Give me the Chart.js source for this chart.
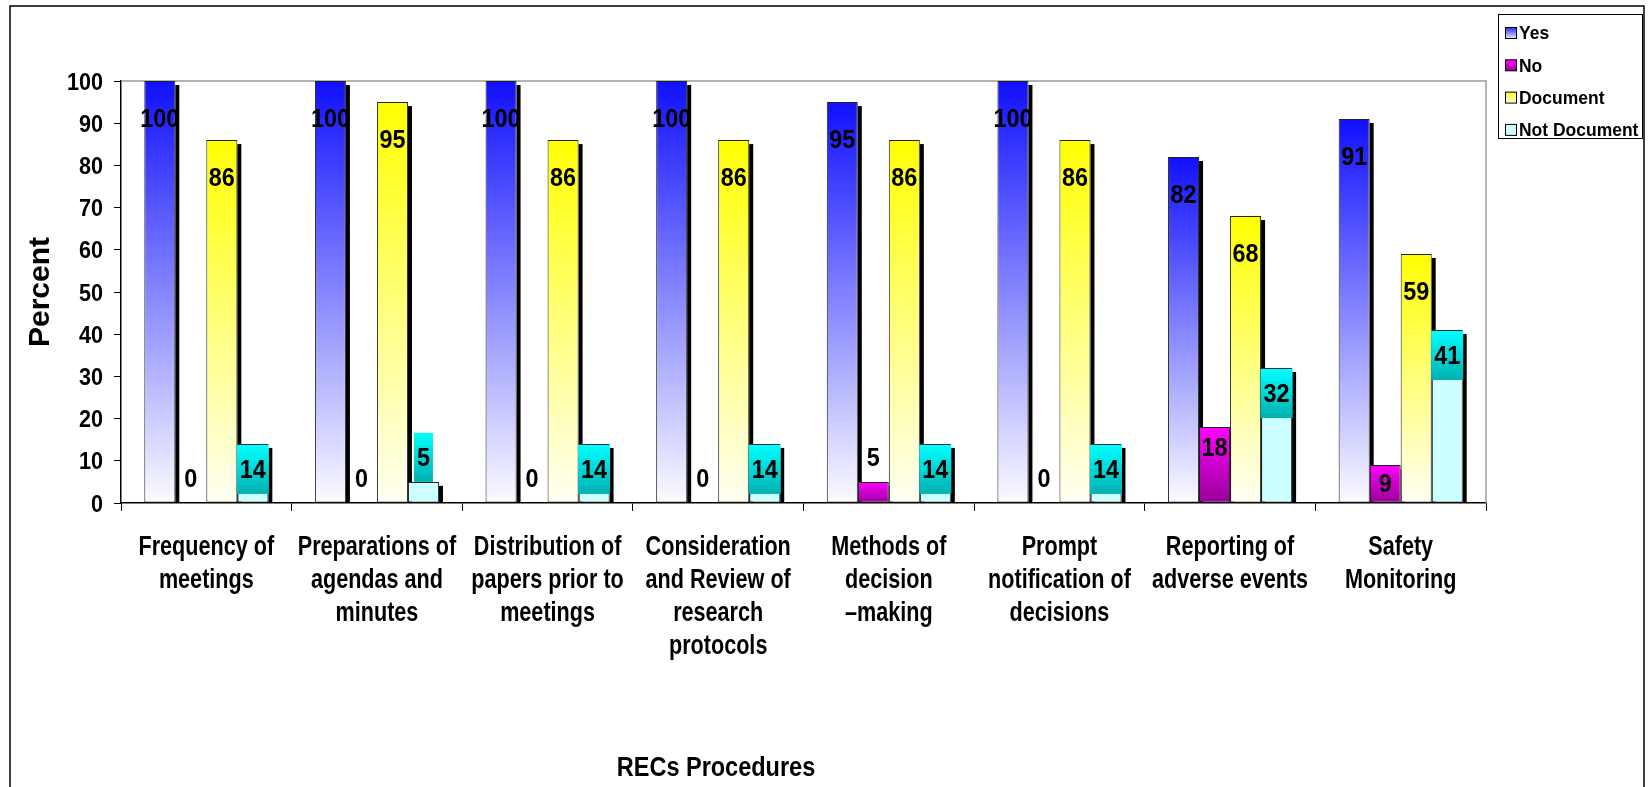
<!DOCTYPE html>
<html>
<head>
<meta charset="utf-8">
<script src="https://cdn.jsdelivr.net/npm/chart.js@4.4.1/dist/chart.umd.min.js"></script>
<style>
  html, body { margin: 0; padding: 0; background: #fff; }
  #wrap { width: 1650px; height: 787px; position: relative; }
</style>
</head>
<body>
<div id="wrap"><canvas id="chartRecs"></canvas></div>
<script>
const categories = [
  ['Frequency of', 'meetings'],
  ['Preparations of', 'agendas and', 'minutes'],
  ['Distribution of', 'papers prior to', 'meetings'],
  ['Consideration', 'and Review of', 'research', 'protocols'],
  ['Methods of', 'decision', '\u2013making'],
  ['Prompt', 'notification of', 'decisions'],
  ['Reporting of', 'adverse events'],
  ['Safety', 'Monitoring']
];
const seriesNames = ['Yes', 'No', 'Document', 'Not Document'];
const yesValues = [100, 100, 100, 100, 95, 100, 82, 91];
const noValues = [0, 0, 0, 0, 5, 0, 18, 9];
const documentValues = [86, 95, 86, 86, 86, 86, 68, 59];
const notDocumentValues = [14, 5, 14, 14, 14, 14, 32, 41];
const yTicks = [0, 10, 20, 30, 40, 50, 60, 70, 80, 90, 100];
const xTitle = 'RECs Procedures';
const yTitle = 'Percent';

const FONT = '"Liberation Sans", Arial, sans-serif';

// the source uses a condensed bold face, so squeeze the text horizontally
function squeezed(ctx, text, x, y, k, align) {
  ctx.save();
  ctx.translate(x, y);
  ctx.scale(k, 1);
  ctx.textAlign = align;
  ctx.fillText(text, 0, 0);
  ctx.restore();
}

// vertical gradient over the height of each bar
function barGradient(top, bottom) {
  return function (context) {
    const chart = context.chart;
    if (!chart.chartArea || context.type !== 'data') return top;
    const y = chart.scales.y;
    const y0 = y.getPixelForValue(context.raw);
    const y1 = y.getPixelForValue(0);
    if (y1 - y0 < 1) return top;
    const g = chart.ctx.createLinearGradient(0, y0, 0, y1);
    g.addColorStop(0, top);
    g.addColorStop(1, bottom);
    return g;
  };
}

const barShadow = {
  id: 'barShadow',
  beforeDatasetsDraw(chart) {
    const ctx = chart.ctx;
    const area = chart.chartArea;
    ctx.save();
    // plot area frame (top and right, grey)
    ctx.strokeStyle = '#9a9a9a';
    ctx.lineWidth = 1.5;
    ctx.beginPath();
    ctx.moveTo(area.left, area.top);
    ctx.lineTo(area.right, area.top);
    ctx.lineTo(area.right, area.bottom);
    ctx.stroke();
    ctx.fillStyle = '#000';
    chart.data.datasets.forEach((ds, i) => {
      chart.getDatasetMeta(i).data.forEach((bar, j) => {
        if (!ds.data[j]) return;
        const p = bar.getProps(['x', 'y', 'base', 'width'], true);
        ctx.fillRect(p.x + p.width / 2, p.y + 4, 4, p.base - p.y - 4);
      });
    });
    ctx.restore();
  }
};

const valueLabels = {
  id: 'valueLabels',
  afterDatasetsDraw(chart) {
    const ctx = chart.ctx;
    const k = 0.9;
    ctx.save();
    ctx.font = 'bold 26px ' + FONT;
    ctx.textBaseline = 'middle';
    chart.data.datasets.forEach((ds, i) => {
      chart.getDatasetMeta(i).data.forEach((bar, j) => {
        const v = ds.data[j];
        const p = bar.getProps(['x', 'y', 'base', 'width'], true);
        const h = p.base - p.y;
        const txt = String(v);
        let cy;
        if (ds.labelMode === 'inside') {
          cy = p.y + 39;
        } else if (ds.labelMode === 'small') {
          cy = h > 30 ? p.y + Math.min(21, h / 2) + 1 : p.y - 23;
        } else {
          const w = ctx.measureText(txt).width * k + 6;
          const bh = 49;
          const top = h > bh + 4 ? p.y + 1 : p.y - bh;
          const g = ctx.createLinearGradient(0, top, 0, top + bh);
          g.addColorStop(0, '#00ffff');
          g.addColorStop(1, '#00b0b0');
          ctx.fillStyle = g;
          ctx.fillRect(p.x - w / 2, top, w, bh);
          cy = top + bh / 2 + 1;
        }
        ctx.fillStyle = '#000';
        squeezed(ctx, txt, p.x, cy, k, 'center');
      });
    });
    ctx.restore();
  }
};

const axisText = {
  id: 'axisText',
  afterDraw(chart) {
    const ctx = chart.ctx;
    const xs = chart.scales.x;
    const ys = chart.scales.y;
    ctx.save();
    ctx.fillStyle = '#000';
    ctx.textBaseline = 'alphabetic';

    // category labels
    ctx.font = 'bold 27px ' + FONT;
    categories.forEach((lines, i) => {
      const cx = xs.getPixelForValue(i);
      lines.forEach((line, n) => {
        squeezed(ctx, line, cx, 555 + n * 33, 0.8, 'center');
      });
    });

    // value ticks
    ctx.font = 'bold 24px ' + FONT;
    ctx.textBaseline = 'middle';
    yTicks.forEach(v => {
      squeezed(ctx, String(v), ys.left + ys.width - 18, ys.getPixelForValue(v) + 2, 0.9, 'right');
    });

    // x axis title
    ctx.textBaseline = 'alphabetic';
    ctx.font = 'bold 27px ' + FONT;
    squeezed(ctx, xTitle, 716, 776, 0.87, 'center');
    ctx.restore();
  }
};

const frameAndLegend = {
  id: 'frameAndLegend',
  afterDraw(chart) {
    const ctx = chart.ctx;
    ctx.save();
    // outer frame
    ctx.strokeStyle = '#000';
    ctx.lineWidth = 1.5;
    ctx.beginPath();
    ctx.moveTo(10, 787);
    ctx.lineTo(10, 6);
    ctx.lineTo(1644, 6);
    ctx.lineTo(1644, 787);
    ctx.stroke();

    // legend
    ctx.lineWidth = 1;
    ctx.fillStyle = '#fff';
    ctx.fillRect(1498.5, 14.5, 144, 124);
    ctx.strokeRect(1498.5, 14.5, 144, 124);
    ctx.font = 'bold 19px ' + FONT;
    ctx.textBaseline = 'middle';
    chart.data.datasets.forEach((ds, i) => {
      const cy = 33 + i * 32.3;
      const g = ctx.createLinearGradient(0, cy - 5, 0, cy + 6);
      g.addColorStop(0, ds.swatch[0]);
      g.addColorStop(1, ds.swatch[1]);
      ctx.fillStyle = g;
      ctx.fillRect(1505.5, cy - 5.5, 11, 11);
      ctx.strokeStyle = '#000';
      ctx.strokeRect(1505.5, cy - 5.5, 11, 11);
      ctx.fillStyle = '#000';
      squeezed(ctx, ds.label, 1519, cy + 1, 0.92, 'left');
    });
    ctx.restore();
  }
};

const ctx = document.getElementById('chartRecs').getContext('2d');

const myChart = new Chart(ctx, {
  type: 'bar',
  data: {
    labels: categories,
    datasets: [
      {
        label: seriesNames[0],
        data: yesValues,
        backgroundColor: barGradient('#1010ff', '#fbfbff'),
        swatch: ['#3030ff', '#f0f0ff'],
        labelMode: 'inside'
      },
      {
        label: seriesNames[1],
        data: noValues,
        backgroundColor: barGradient('#ff00ff', '#990099'),
        swatch: ['#ff00ff', '#990099'],
        labelMode: 'small'
      },
      {
        label: seriesNames[2],
        data: documentValues,
        backgroundColor: barGradient('#ffff00', '#fffff4'),
        swatch: ['#ffff30', '#ffffe0'],
        labelMode: 'inside'
      },
      {
        label: seriesNames[3],
        data: notDocumentValues,
        backgroundColor: '#ccffff',
        swatch: ['#ccffff', '#ccffff'],
        labelMode: 'box'
      }
    ]
  },
  options: {
    responsive: true,
    maintainAspectRatio: false,
    animation: false,
    events: [],
    layout: {
      padding: { left: 0, top: 81, right: 164, bottom: 0 }
    },
    datasets: {
      bar: {
        borderColor: '#222',
        borderWidth: 1,
        borderSkipped: false,
        barPercentage: 1,
        categoryPercentage: 0.727
      }
    },
    plugins: {
      legend: { display: false },
      tooltip: { enabled: false }
    },
    scales: {
      x: {
        afterFit(scale) { scale.height = 284; },
        grid: {
          display: true,
          offset: true,
          drawOnChartArea: false,
          drawTicks: true,
          tickLength: 8,
          color: '#000'
        },
        border: { display: true, color: '#000', width: 1.5 },
        ticks: { display: false, autoSkip: false }
      },
      y: {
        min: 0,
        max: 100,
        afterFit(scale) { scale.width = 121; },
        afterBuildTicks(scale) { scale.ticks = yTicks.map(v => ({ value: v })); },
        grid: {
          display: true,
          drawOnChartArea: false,
          drawTicks: true,
          tickLength: 7,
          color: '#000'
        },
        border: { display: true, color: '#000', width: 1.5 },
        ticks: { display: false },
        title: {
          display: true,
          text: yTitle,
          color: '#000',
          padding: { top: 23, bottom: 0 },
          font: { family: FONT, size: 30, weight: 'bold', lineHeight: 1.2 }
        }
      }
    }
  },
  plugins: [barShadow, valueLabels, axisText, frameAndLegend]
});
</script>
</body>
</html>
